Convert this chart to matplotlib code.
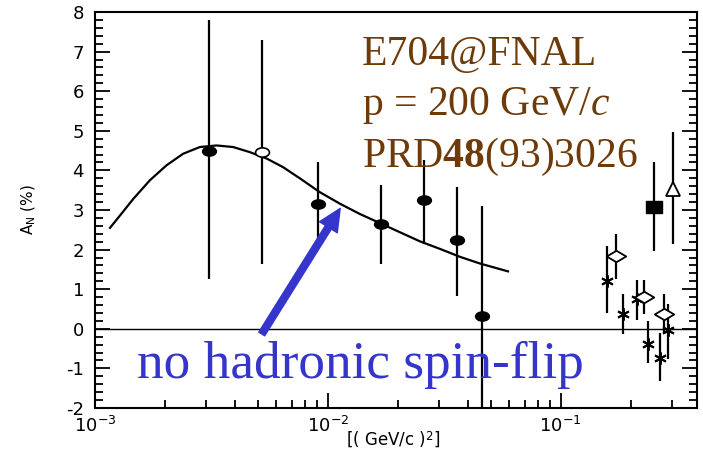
import numpy as np
import matplotlib
matplotlib.use("Agg")
import matplotlib.pyplot as plt
from matplotlib.path import Path
from matplotlib.ticker import LogLocator, FixedLocator, MultipleLocator, NullFormatter

plt.rcParams['mathtext.fontset'] = 'custom'
plt.rcParams['mathtext.rm'] = 'Liberation Serif'
plt.rcParams['mathtext.it'] = 'Liberation Serif:italic'
plt.rcParams['mathtext.bf'] = 'Liberation Serif:bold'
plt.rcParams['axes.unicode_minus'] = False

# E704 data (filled points)
t_e704 = [0.0031, 0.0091, 0.0169, 0.026, 0.036, 0.0458]
an_e704 = [4.5, 3.16, 2.65, 3.24, 2.23, 0.33]
lo_e704 = [1.25, 2.05, 1.64, 2.15, 0.84, -2.1]
hi_e704 = [7.8, 4.2, 3.62, 4.25, 3.57, 3.09]

# open point
t_open = [0.0052]
an_open = [4.46]
lo_open = [1.64]
hi_open = [7.3]

# other experiments at larger |t|
t_star = [0.158, 0.186, 0.212, 0.236, 0.266, 0.288]
an_star = [1.2, 0.38, 0.76, -0.38, -0.73, -0.03]
lo_star = [0.4, -0.13, 0.22, -0.86, -1.32, -0.76]
hi_star = [2.08, 0.89, 1.22, 0.2, -0.1, 0.63]

t_diam = [0.172, 0.229, 0.279]
an_diam = [1.85, 0.81, 0.38]
lo_diam = [1.25, 0.38, -0.1]
hi_diam = [2.4, 1.24, 0.89]

t_sq = [0.251]
an_sq = [3.07]
lo_sq = [1.97]
hi_sq = [4.2]

t_tri = [0.303]
an_tri = [3.54]
lo_tri = [2.15]
hi_tri = [4.96]

# CNI curve (no hadronic spin-flip)
t_curve = [0.00116, 0.00128, 0.00146, 0.00172, 0.00203, 0.00239, 0.00282,
           0.00333, 0.00392, 0.00463, 0.00546, 0.00643, 0.00758, 0.00924,
           0.01126, 0.01372, 0.01672, 0.02037, 0.02482, 0.03025, 0.03685,
           0.04492, 0.0594]
an_curve = [2.55, 2.86, 3.28, 3.75, 4.13, 4.42, 4.59,
            4.63, 4.59, 4.46, 4.30, 4.08, 3.80, 3.45,
            3.16, 2.90, 2.67, 2.44, 2.21, 2.02, 1.82,
            1.65, 1.45]

blue = '#3535CC'
brown = '#6E3A08'

ell = Path.unit_circle().transformed(matplotlib.transforms.Affine2D().scale(1.5, 1.0))
wdiam = Path([(-1.7, 0), (0, 1), (1.7, 0), (0, -1), (-1.7, 0)],
             [Path.MOVETO, Path.LINETO, Path.LINETO, Path.LINETO, Path.CLOSEPOLY])
rect = Path([(-1.4, -1), (1.4, -1), (1.4, 1), (-1.4, 1), (-1.4, -1)],
            [Path.MOVETO, Path.LINETO, Path.LINETO, Path.LINETO, Path.CLOSEPOLY])


def yerr(an, lo, hi):
    an = np.array(an)
    return [an - np.array(lo), np.array(hi) - an]


fig = plt.figure(figsize=(7.03, 4.59), dpi=100)
ax = fig.add_axes([95 / 703, 1 - 408 / 459, 602 / 703, 396 / 459])

ax.axhline(0, color='black', lw=1.0)
ax.plot(t_curve, an_curve, color='black', lw=1.6)

eb = dict(ecolor='black', elinewidth=1.6, capsize=0, ls='none')
ax.errorbar(t_e704, an_e704, yerr=yerr(an_e704, lo_e704, hi_e704), marker=ell,
            ms=10, mfc='black', mec='black', **eb)
ax.errorbar(t_open, an_open, yerr=yerr(an_open, lo_open, hi_open), marker=ell,
            ms=10, mfc='white', mec='black', mew=1.2, **eb)
ax.errorbar(t_star, an_star, yerr=yerr(an_star, lo_star, hi_star), marker=(6, 2, 0),
            ms=9, mec='black', mew=1.4, **eb)
ax.errorbar(t_diam, an_diam, yerr=yerr(an_diam, lo_diam, hi_diam), marker=wdiam,
            ms=14, mfc='white', mec='black', mew=1.3, **eb)
ax.errorbar(t_sq, an_sq, yerr=yerr(an_sq, lo_sq, hi_sq), marker=rect,
            ms=12, mfc='black', mec='black', **eb)
ax.errorbar(t_tri, an_tri, yerr=yerr(an_tri, lo_tri, hi_tri), marker='^',
            ms=10, mfc='white', mec='black', mew=1.3, **eb)

ax.set_xscale('log')
ax.set_xlim(0.001, 0.385)
ax.set_ylim(-2, 8)

ax.xaxis.set_major_locator(FixedLocator([0.001, 0.01, 0.1]))
ax.xaxis.set_minor_locator(LogLocator(base=10, subs=np.arange(2, 10)))
ax.xaxis.set_minor_formatter(NullFormatter())
ax.set_xticklabels([r'$\mathregular{10^{-3}}$', r'$\mathregular{10^{-2}}$',
                    r'$\mathregular{10^{-1}}$'])
ax.yaxis.set_major_locator(MultipleLocator(1))
ax.yaxis.set_minor_locator(MultipleLocator(0.2))

ax.tick_params(which='both', direction='in', left=True, right=True, top=False,
               bottom=True, labelsize=13, width=1.3)
ax.tick_params(which='major', length=11)
ax.tick_params(which='minor', length=6)
ax.tick_params(axis='y', pad=8)
ax.tick_params(axis='x', pad=6)
for s in ax.spines.values():
    s.set_linewidth(1.5)

fig.text(28 / 703, 1 - 210 / 459, r'A$_\mathregular{N}$ (%)', rotation=90,
         ha='center', va='center', fontsize=11)
fig.text(393 / 703, 1 - 440 / 459, r'[( GeV/c )$^\mathregular{2}$]',
         ha='center', va='center', fontsize=12)

for line, yb in zip(['E704@FNAL', r'p = 200 GeV/$\mathit{c}$',
                     r'PRD$\mathbf{48}$(93)3026'], [65, 115, 167]):
    fig.text(362 / 703, 1 - yb / 459, line, color=brown, fontsize=30,
             family='Liberation Serif', va='baseline', ha='left')

ax.annotate('', xy=(0.0113, 3.04), xytext=(0.0052, -0.13),
            arrowprops=dict(facecolor=blue, edgecolor=blue, width=5,
                            headwidth=15, headlength=16, shrink=0))
fig.text(137 / 703, 1 - 378 / 459, 'no hadronic spin-flip', color=blue,
         fontsize=38.3, family='Liberation Serif', va='baseline', ha='left')

fig.savefig('out.png', dpi=100)
